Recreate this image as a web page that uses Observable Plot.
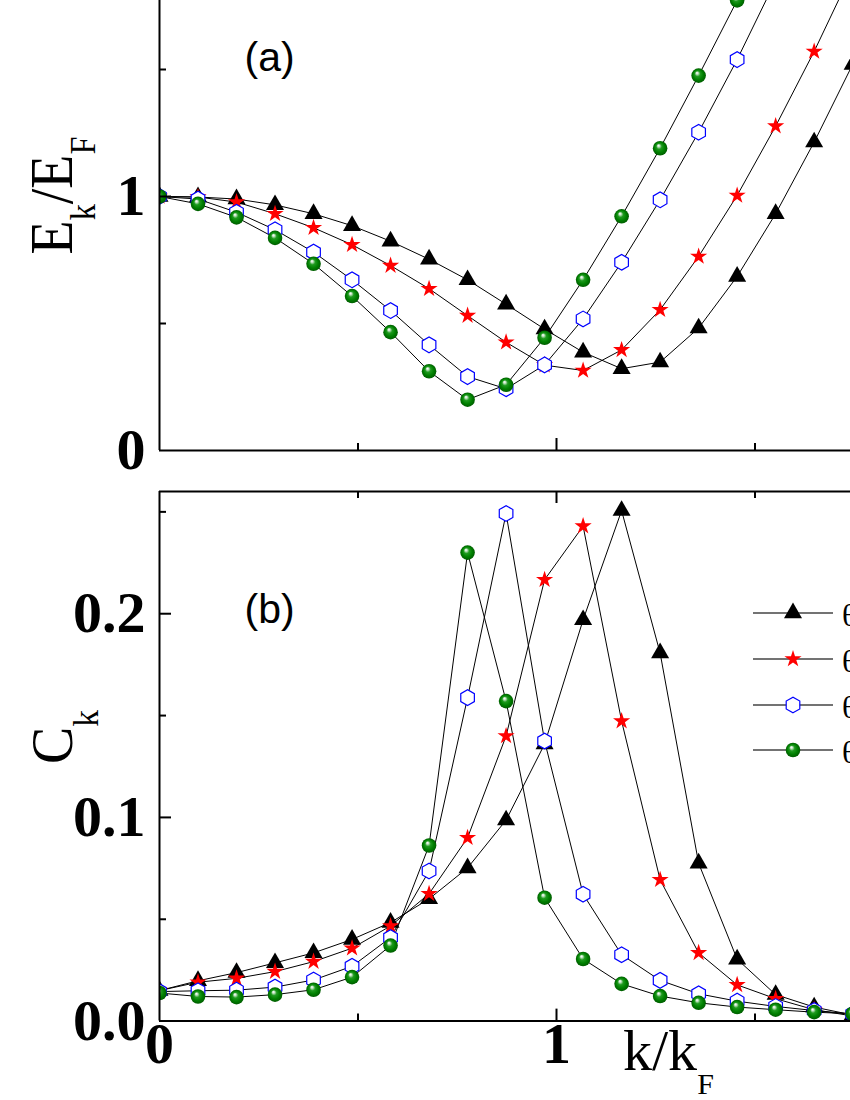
<!DOCTYPE html>
<html><head><meta charset="utf-8">
<script src="https://cdn.jsdelivr.net/npm/d3@7"></script>
<script src="https://cdn.jsdelivr.net/npm/@observablehq/plot@0.6"></script>
<style>
html,body{margin:0;padding:0;overflow:hidden;background:#fff;}
#wrap{position:relative;width:850px;height:1100px;overflow:hidden;background:#fff;}
#top,#bot,#over{position:absolute;left:0;}
#top{top:0px;} #bot{top:470px;} #over{top:0px;pointer-events:none;}
</style></head><body>
<div id="wrap"><div id="top"></div><div id="bot"></div><svg id="over" width="850" height="1100"></svg></div>
<script>
// ---- data ----
const kVals = [0, 0.097, 0.194, 0.291, 0.388, 0.485, 0.582, 0.679, 0.776, 0.873, 0.970, 1.067, 1.164, 1.261, 1.358, 1.455, 1.552, 1.649, 1.746];
const seriesNames = ["θ1", "θ2", "θ3", "θ4"];
const legendLabels = ["θ = 0", "θ = π/8", "θ = π/6", "θ = π/4"];

// panel (a): E_k / E_F
const blackE = [1.0, 0.998, 0.99, 0.967, 0.932, 0.885, 0.824, 0.753, 0.672, 0.576, 0.478, 0.387, 0.322, 0.348, 0.482, 0.685, 0.932, 1.214, 1.52];
const redE   = [1.0, 0.998, 0.978, 0.932, 0.877, 0.81, 0.728, 0.637, 0.531, 0.426, 0.336, 0.315, 0.396, 0.554, 0.764, 1.004, 1.277, 1.571, 1.89];
const blueE  = [1.0, 0.99, 0.938, 0.869, 0.781, 0.672, 0.551, 0.416, 0.291, 0.243, 0.337, 0.518, 0.741, 0.987, 1.253, 1.539, 1.85];
const greenE = [1.0, 0.971, 0.918, 0.837, 0.735, 0.608, 0.466, 0.312, 0.2, 0.259, 0.444, 0.672, 0.922, 1.19, 1.476, 1.772, 2.07];

// panel (b): C_k
const blackC = [0.015, 0.0198, 0.0238, 0.0286, 0.0335, 0.0401, 0.0484, 0.06, 0.0752, 0.0987, 0.136, 0.197, 0.2506, 0.1807, 0.0775, 0.0304, 0.013, 0.0069, 0.003];
const redC   = [0.015, 0.0191, 0.021, 0.0243, 0.0292, 0.0358, 0.0467, 0.0625, 0.09, 0.14, 0.2167, 0.243, 0.1473, 0.0694, 0.0335, 0.0178, 0.011, 0.0056, 0.0025];
const blueC  = [0.0145, 0.0149, 0.0152, 0.0167, 0.0202, 0.0269, 0.041, 0.0737, 0.1588, 0.2492, 0.1375, 0.0623, 0.0326, 0.02, 0.0134, 0.0098, 0.0072, 0.0052, 0.0035];
const greenC = [0.0138, 0.0121, 0.0118, 0.013, 0.0154, 0.0216, 0.0371, 0.0862, 0.23, 0.1571, 0.0606, 0.0305, 0.0183, 0.0123, 0.009, 0.0069, 0.0056, 0.0044, 0.0036];

// ticks & labels
const xMajor = [1], xMinor = [0.5, 1.5], xLabels = [0, 1];
const yMajorA = [1], yMinorA = [0.5, 1.5], yLabelsA = [0, 1];
const yMajorB = [0.1, 0.2], yMinorB = [0.05, 0.15, 0.25], yLabelsB = [0, 0.1, 0.2];

// ---- styles ----
const styles = [
  {symbol: "triangle", r: 6.7, fill: "#000", stroke: "none", sw: 0},
  {symbol: "star", r: 5.4, fill: "#ff0000", stroke: "none", sw: 0},
  {symbol: "hexagon", r: 6.8, fill: "#fff", stroke: "#0000ff", sw: 1.2},
  {symbol: "circle", r: 7.3, fill: "url(#sphere)", stroke: "none", sw: 0}
];

function table(arrs) {
  const rows = [];
  arrs.forEach((arr, j) => arr.forEach((v, i) => rows.push({k: kVals[i], v, s: seriesNames[j]})));
  return rows;
}

const W = 850, ML = 159;
const xDomain = [0, (W - ML) / 397];
const FW = W - ML;

function panel(o) {
  const H = o.height - o.mt - o.mb;
  const data = table(o.arrs);
  const marks = [];
  marks.push(Plot.line(data, {x: "k", y: "v", z: "s", stroke: "#000", strokeWidth: 1, clip: true}));
  seriesNames.forEach((s, j) => {
    const st = styles[j];
    marks.push(Plot.dot(data.filter(d => d.s === s), {x: "k", y: "v", symbol: st.symbol, r: st.r, fill: st.fill, stroke: st.stroke, strokeWidth: st.sw, clip: true}));
  });
  // axis lines
  marks.push(Plot.ruleX([0], {stroke: "#000", strokeWidth: 2}));
  marks.push(Plot.ruleY([0], {stroke: "#000", strokeWidth: 2}));
  if (o.topLine) marks.push(Plot.ruleY([o.yDomain[1]], {stroke: "#000", strokeWidth: 2}));
  // inward ticks
  marks.push(Plot.tickX(xMajor, {x: d => d, insetTop: H - 12, stroke: "#000", strokeWidth: 2}));
  marks.push(Plot.tickX(xMinor, {x: d => d, insetTop: H - 7, stroke: "#000", strokeWidth: 2}));
  if (o.topLine) {
    marks.push(Plot.tickX(xMajor, {x: d => d, insetBottom: H - 12, stroke: "#000", strokeWidth: 2}));
    marks.push(Plot.tickX(xMinor, {x: d => d, insetBottom: H - 7, stroke: "#000", strokeWidth: 2}));
  }
  marks.push(Plot.tickY(o.yMajor, {y: d => d, insetRight: FW - 12, stroke: "#000", strokeWidth: 2}));
  marks.push(Plot.tickY(o.yMinor, {y: d => d, insetRight: FW - 7, stroke: "#000", strokeWidth: 2}));
  // tick labels
  marks.push(Plot.text(o.yLabels, {y: d => d, text: o.yFmt, frameAnchor: "left", dx: -14, textAnchor: "end",
    fontFamily: "Liberation Serif, Times New Roman, serif", fontWeight: "bold", fontSize: 58, fill: "#000"}));
  if (o.xLabels) marks.push(Plot.text(o.xLabels, {x: d => d, text: d => String(d), frameAnchor: "bottom", dy: 42,
    fontFamily: "Liberation Serif, Times New Roman, serif", fontWeight: "bold", fontSize: 58, fill: "#000"}));
  // panel tag
  marks.push(Plot.text([o.tag], {frameAnchor: "top-left", dx: 85, dy: o.tagDy, textAnchor: "start",
    fontFamily: "Liberation Sans, Arial, sans-serif", fontSize: 41, fill: "#000"}));
  return Plot.plot({
    width: W, height: o.height,
    marginLeft: ML, marginRight: 0, marginTop: o.mt, marginBottom: o.mb,
    x: {domain: xDomain, axis: null},
    y: {domain: o.yDomain, axis: null},
    style: {background: "transparent", overflow: "visible"},
    marks
  });
}

const topPlot = panel({arrs: [blackE, redE, blueE, greenE], height: 470, mt: 0, mb: 20,
  yDomain: [0, 450 / 254], yMajor: yMajorA, yMinor: yMinorA, yLabels: yLabelsA, yFmt: d => String(d),
  tag: "(a)", tagDy: 41, topLine: false});
document.getElementById("top").appendChild(topPlot);

const botPlot = panel({arrs: [blackC, redC, blueC, greenC], height: 630, mt: 21, mb: 630 - 21 - 0.26 * 2037,
  yDomain: [0, 0.26], yMajor: yMajorB, yMinor: yMinorB, yLabels: yLabelsB, yFmt: d3.format(".1f"),
  xLabels: xLabels, tag: "(b)", tagDy: 102, topLine: true});
document.getElementById("bot").appendChild(botPlot);

// ---- overlay: gradient, axis titles, legend ----
const over = d3.select("#over");
const defs = over.append("defs");
const g = defs.append("radialGradient").attr("id", "sphere").attr("cx", "0.5").attr("cy", "0.5").attr("r", "0.5").attr("fx", "0.38").attr("fy", "0.3");
[["0%", "#ffffff"], ["14%", "#cfe8cf"], ["38%", "#1f9a1f"], ["70%", "#008000"], ["100%", "#005c00"]].forEach(([o, c]) =>
  g.append("stop").attr("offset", o).attr("stop-color", c));

const serif = "Liberation Serif, Times New Roman, serif";
// E_k/E_F
const t1 = over.append("text").attr("font-family", serif).attr("font-size", 62).attr("text-anchor", "middle")
  .attr("transform", "translate(72,195.5) rotate(-90) scale(0.9,1)");
t1.append("tspan").text("E");
t1.append("tspan").attr("font-size", 36).attr("dy", 23).text("k");
t1.append("tspan").attr("dy", -23).text("/E");
t1.append("tspan").attr("font-size", 36).attr("dy", 23).text("F");
// C_k
const t2 = over.append("text").attr("font-family", serif).attr("font-size", 60).attr("text-anchor", "middle")
  .attr("transform", "translate(72,737) rotate(-90) scale(0.93,1)");
t2.append("tspan").text("C");
t2.append("tspan").attr("font-size", 36).attr("dy", 26).text("k");
// k/k_F
const t3 = over.append("text").attr("font-family", serif).attr("font-size", 58).attr("x", 623).attr("y", 1070);
t3.append("tspan").text("k/k");
t3.append("tspan").attr("font-size", 30).attr("dy", 24).text("F");

// legend
const rowsY = [613, 659, 705, 750];
const hex = r => { const ry = r * 2 / Math.sqrt(3), hy = ry / 2; return `M0,${ry}L${r},${hy}L${r},${-hy}L0,${-ry}L${-r},${-hy}L${-r},${hy}Z`; };
const symPath = st => {
  if (st.symbol === "hexagon") return hex(st.r);
  const t = st.symbol === "triangle" ? d3.symbolTriangle : st.symbol === "star" ? d3.symbolStar : d3.symbolCircle;
  return d3.symbol(t, Math.PI * st.r * st.r)();
};
legendLabels.forEach((lab, j) => {
  const y = rowsY[j], st = styles[j];
  over.append("line").attr("x1", 753).attr("x2", 833).attr("y1", y).attr("y2", y).attr("stroke", "#444").attr("stroke-width", 1.5);
  over.append("path").attr("d", symPath(st)).attr("transform", `translate(793,${y})`)
    .attr("fill", st.fill).attr("stroke", st.stroke).attr("stroke-width", st.sw);
  over.append("text").attr("x", 842).attr("y", y + 13).attr("font-family", serif).attr("font-size", 32).text(lab);
});
</script>
</body></html>
